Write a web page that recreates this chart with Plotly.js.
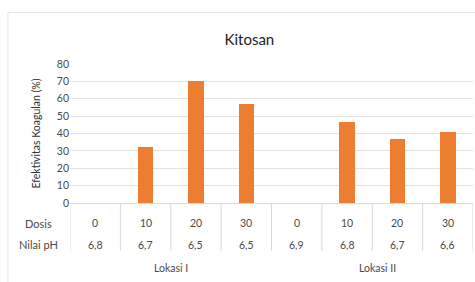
<!DOCTYPE html>
<html><head><meta charset="utf-8">
<script src="https://cdn.plot.ly/plotly-3.0.1.min.js"></script>
<style>html,body{margin:0;padding:0;background:#fff;}#chart{width:475px;height:282px;}</style>
</head><body><div id="chart"></div>
<script>
var dosis = ["0","10","20","30","0","10","20","30"];
var nilaiPH = ["6,8","6,7","6,5","6,5","6,9","6,8","6,7","6,6"];
var efektivitas = [0, 32, 70, 57, 0, 46.4, 37, 40.6];
var lokasi = ["Lokasi I","Lokasi II"];
var lokasiCenter = [1.5, 5.6];
var rowLabels = ["Dosis","Nilai pH"];

var idx = dosis.map(function(d,i){return i;});
var txt = '#4a4a4a';
var fnt = 'Lato, "Open Sans", sans-serif';

var ann = [];
var rowY = [-0.144, -0.3];
idx.forEach(function(i){
  ann.push({x:i, y:rowY[0], xref:'x', yref:'paper', yanchor:'middle', xanchor:'center', text:dosis[i], showarrow:false, font:{size:10.5,color:txt,family:fnt}});
  ann.push({x:i, y:rowY[1], xref:'x', yref:'paper', yanchor:'middle', xanchor:'center', text:nilaiPH[i], showarrow:false, font:{size:10.5,color:txt,family:fnt}});
});
rowLabels.forEach(function(r,k){
  ann.push({x:-0.077, y:rowY[k], xref:'paper', yref:'paper', yanchor:'middle', text:r, showarrow:false, xanchor:'center', font:{size:11,color:txt,family:fnt}});
});
lokasi.forEach(function(l,k){
  ann.push({x:lokasiCenter[k], y:-0.467, xref:'x', yref:'paper', yanchor:'middle', xanchor:'center', text:l, showarrow:false, font:{size:10.5,color:txt,family:fnt}});
});

var shapes = [];
for (var i = 0; i <= idx.length; i++) {
  shapes.push({type:'line', xref:'x', yref:'paper', x0:i-0.5, x1:i-0.5, y0:0, y1:-0.345, line:{color:'#D9D9D9', width:1}});
}
shapes.push({type:'rect', xref:'paper', yref:'paper', x0:-0.154, x1:1.2, y0:-2, y1:1.37, line:{color:'#E6E6E6', width:1}, layer:'below'});

Plotly.newPlot('chart', [{
  type:'bar', x:idx, y:efektivitas, width:0.31,
  marker:{color:'#ED7D31'}, hoverinfo:'none'
}], {
  width:475, height:282,
  margin:{l:70, r:2, t:64, b:79},
  paper_bgcolor:'#fff', plot_bgcolor:'#fff',
  title:{text:'Kitosan', x:0.525, xanchor:'center', y:0.858, yanchor:'middle', font:{size:15, color:'#222', family:fnt}},
  xaxis:{range:[-0.5,7.5], showticklabels:false, showgrid:false, zeroline:false, showline:true, linecolor:'#D9D9D9', linewidth:1, ticks:'', fixedrange:true},
  yaxis:{range:[0,80], dtick:10, showgrid:true, gridcolor:'#E3E3E3', gridwidth:1, zeroline:false, showline:false,
    tickfont:{size:10.5, color:txt, family:fnt}, ticks:'', ticklen:0, automargin:false,
    title:{text:'Efektivitas Koagulan (%)', standoff:14, font:{size:10.5, color:'#333', family:fnt}}},
  annotations:ann, shapes:shapes, showlegend:false, bargap:0
}, {displayModeBar:false, staticPlot:true});
</script></body></html>
